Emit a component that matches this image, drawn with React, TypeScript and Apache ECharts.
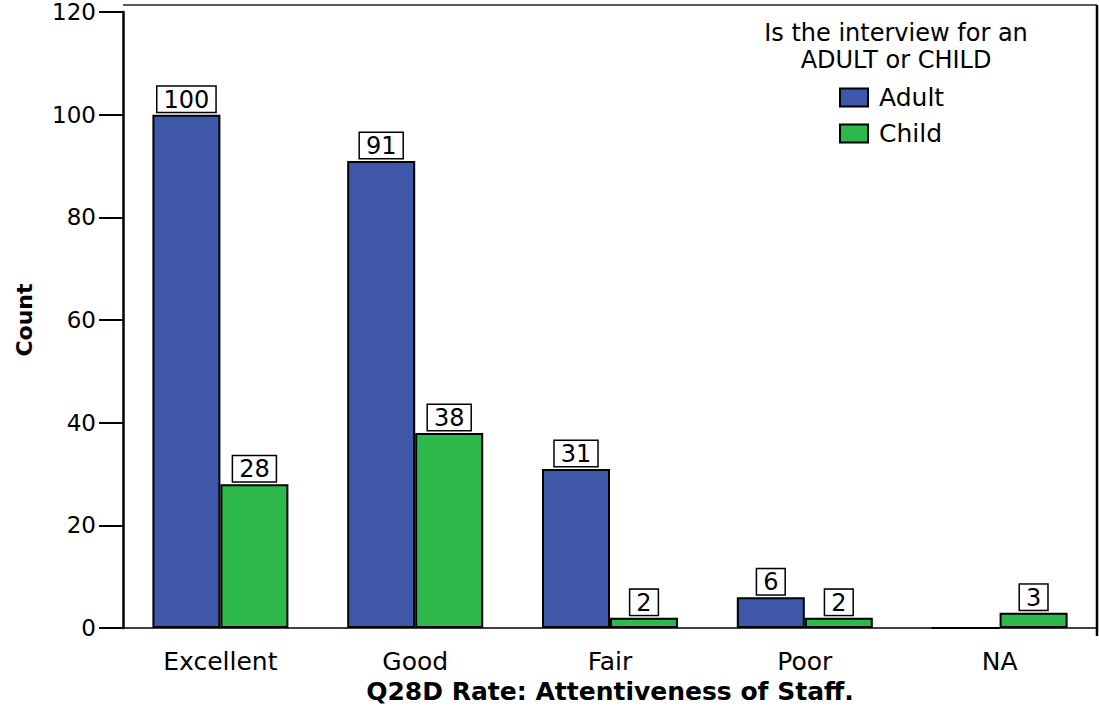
import React, { useEffect, useRef } from "react";
import * as echarts from "echarts";

const categories = ["Excellent", "Good", "Fair", "Poor", "NA"];
const adultValues = [100, 91, 31, 6, 0];
const childValues = [28, 38, 2, 2, 3];
const seriesNames = ["Adult", "Child"];
const yTicks = { min: 0, max: 120, interval: 20 };
const legendTitle = "Is the interview for an\nADULT or CHILD";
const xAxisName = "Q28D Rate: Attentiveness of Staff.";
const yAxisName = "Count";

const FONT = "DejaVu Sans";

function toData(vals: number[]) {
  return vals.map((v) => (v === 0 ? { value: v, label: { show: false } } : v));
}

export default function App() {
  const ref = useRef<HTMLDivElement>(null);
  useEffect(() => {
    if (!ref.current) return;
    const chart = echarts.init(ref.current, undefined, { renderer: "svg" });
    const label = {
      show: true,
      position: "top",
      distance: 3,
      color: "#000",
      fontFamily: FONT,
      fontSize: 24,
      lineHeight: 22,
      backgroundColor: "#fff",
      borderColor: "#000",
      borderWidth: 1.5,
      padding: [2, 6, 1, 6],
    };
    chart.setOption({
      animation: false,
      backgroundColor: "#fff",
      grid: { left: 123, right: 2, top: 12, bottom: 73, containLabel: false },
      legend: {
        orient: "vertical",
        left: 834,
        top: 80,
        itemWidth: 28,
        itemHeight: 18,
        itemGap: 11,
        icon: "rect",
        data: seriesNames,
        textStyle: { fontFamily: FONT, fontSize: 25, color: "#000", padding: [0, 0, 0, 6] },
      },
      graphic: [
        {
          type: "text",
          x: 896,
          y: 19,
          style: {
            text: legendTitle,
            fontFamily: FONT,
            fontSize: 24,
            lineHeight: 27,
            fill: "#000",
            textAlign: "center",
            align: "center",
          },
        },
        {
          type: "line",
          shape: { x1: 123, y1: 5, x2: 1097, y2: 5 },
          style: { stroke: "#222", lineWidth: 1.5 },
        },
        {
          type: "line",
          shape: { x1: 1097, y1: 5, x2: 1097, y2: 636 },
          style: { stroke: "#000", lineWidth: 2.5 },
        },
      ],
      xAxis: {
        type: "category",
        data: categories,
        name: xAxisName,
        nameLocation: "middle",
        nameGap: 46,
        nameTextStyle: { fontFamily: FONT, fontSize: 25, fontWeight: "bold", color: "#000" },
        axisLine: { lineStyle: { color: "#000", width: 1.5 } },
        axisTick: { alignWithLabel: true, length: 16, lineStyle: { color: "#000", width: 2 } },
        axisLabel: { fontFamily: FONT, fontSize: 25, color: "#000", margin: 21 },
      },
      yAxis: {
        type: "value",
        min: yTicks.min,
        max: yTicks.max,
        interval: yTicks.interval,
        name: yAxisName,
        nameLocation: "middle",
        nameGap: 88,
        nameTextStyle: { fontFamily: FONT, fontSize: 22, fontWeight: "bold", color: "#000" },
        splitLine: { show: false },
        axisLine: { show: true, lineStyle: { color: "#000", width: 2.5 } },
        axisTick: { show: true, length: 24, lineStyle: { color: "#000", width: 2 } },
        axisLabel: { fontFamily: FONT, fontSize: 23, color: "#000", margin: 27 },
      },
      series: [
        {
          name: seriesNames[0],
          type: "bar",
          data: toData(adultValues),
          barWidth: 68,
          barGap: "0%",
          itemStyle: { color: "#3E57A9", borderColor: "#000", borderWidth: 2 },
          label,
        },
        {
          name: seriesNames[1],
          type: "bar",
          data: toData(childValues),
          barWidth: 68,
          barGap: "0%",
          itemStyle: { color: "#2DB84B", borderColor: "#000", borderWidth: 2 },
          label,
        },
      ],
    });
    return () => chart.dispose();
  }, []);
  return (
    <div
      ref={ref}
      style={{ position: "fixed", left: 0, top: 0, width: 1099, height: 709 }}
    />
  );
}
